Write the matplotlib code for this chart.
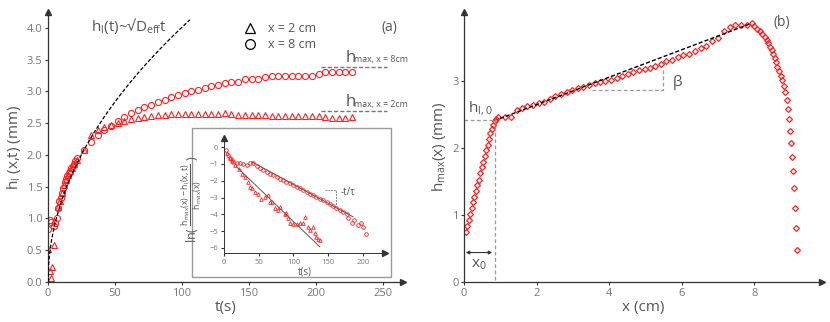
import numpy as np
import matplotlib
matplotlib.use("Agg")
import matplotlib.pyplot as plt
from matplotlib.lines import Line2D
from matplotlib.patches import Rectangle

plt.rcParams['font.family'] = ['Open Sans', 'DejaVu Sans']
plt.rcParams['mathtext.default'] = 'regular'

TXT = '#555555'
TICK = '#777777'
AX = '#333333'
RED = '#ff2020'

# ---- panel (a): h_l(x,t) ----
tri_t_early = [0.2, 1.5, 2.2, 3.0, 4.5, 7.5, 9.0, 10.5, 12.0, 13.5, 15.0, 16.5, 18.0, 19.5]
tri_h_early = [0.52, 0.18, 0.06, 0.24, 0.59, 1.18, 1.28, 1.40, 1.52, 1.60, 1.68, 1.74, 1.80, 1.86]
circ_t_early = [0.3, 1.5, 2.5, 4.5, 5.5, 6.5, 7.5, 8.5, 9.5, 10.5, 11.5, 12.5, 13.5,
                14.5, 15.5, 16.5, 17.5, 18.5, 19.5, 20.5]
circ_h_early = [0.84, 0.98, 0.94, 0.88, 0.93, 1.01, 1.17, 1.28, 1.33, 1.40, 1.48, 1.57,
                1.62, 1.67, 1.71, 1.75, 1.79, 1.83, 1.86, 1.90]
t_late = [22, 27, 32, 37, 42, 47, 52, 57, 62, 67, 72, 77, 82, 87, 92, 97, 102, 107, 112,
          117, 122, 127, 132, 137, 142, 147, 152, 157, 162, 167, 172, 177, 182, 187, 192,
          197, 202, 207, 212, 217, 222, 227]
circ_h_late = [1.95, 2.08, 2.21, 2.31, 2.39, 2.46, 2.53, 2.60, 2.66, 2.71, 2.75, 2.79, 2.83,
               2.87, 2.91, 2.95, 2.97, 3.00, 3.02, 3.05, 3.08, 3.10, 3.13, 3.15, 3.15, 3.19,
               3.19, 3.19, 3.22, 3.24, 3.24, 3.24, 3.24, 3.24, 3.24, 3.25, 3.28, 3.30, 3.30,
               3.30, 3.30, 3.30]
tri_h_late = [1.92, 2.08, 2.31, 2.40, 2.44, 2.47, 2.50, 2.54, 2.56, 2.58, 2.60, 2.62, 2.63,
              2.63, 2.64, 2.64, 2.64, 2.65, 2.65, 2.65, 2.65, 2.65, 2.66, 2.65, 2.63, 2.63,
              2.63, 2.63, 2.63, 2.62, 2.61, 2.61, 2.61, 2.61, 2.61, 2.61, 2.61, 2.59, 2.58,
              2.58, 2.58, 2.59]
sqrt_coef = 0.401      # h = a*sqrt(t)
sqrt_tmax = 106
hmax_8 = 3.39
hmax_2 = 2.69

# ---- inset: ln((hmax-h)/hmax) ----
in_circ_t = [2.9, 6.2, 8.6, 11, 13.4, 18, 23, 28, 33, 37.4, 42, 47, 52, 56.6, 61.4, 66, 71,
             75.8, 80.6, 85.3, 90, 95, 100, 104.5, 109, 114, 119, 124, 128, 133, 138, 143,
             148, 152, 157, 162, 167, 172, 176.5, 179, 183.7, 188, 193, 198, 200, 204]
in_circ_v = [-0.18, -0.48, -0.67, -0.77, -0.87, -0.97, -0.97, -1.03, -1.05, -0.97, -0.93,
             -1.13, -1.27, -1.37, -1.47, -1.57, -1.67, -1.77, -1.87, -1.97, -2.07, -2.16,
             -2.26, -2.36, -2.46, -2.56, -2.66, -2.76, -2.86, -2.96, -3.06, -3.16, -3.26,
             -3.39, -3.51, -3.65, -3.75, -3.85, -3.95, -4.19, -4.54, -4.35, -4.64, -4.54,
             -4.74, -5.18]
in_tri_t = [4, 8, 12, 16, 21, 25.4, 30, 35, 37.4, 41, 44.6, 49.4, 54, 59, 64, 66, 68.6, 73.4,
            78, 80.6, 87.8, 90, 92.5, 95, 100, 105, 110, 114, 116.5, 121, 124, 128.5, 131,
            133, 136, 138]
in_tri_v = [-0.35, -0.62, -0.85, -1.07, -1.3, -1.57, -1.8, -2.06, -2.36, -2.45, -2.66, -2.76,
            -3.06, -2.96, -2.86, -3.26, -3.25, -3.65, -3.75, -3.55, -3.95, -3.9, -4.24, -4.54,
            -4.57, -4.55, -4.5, -4.54, -4.15, -4.74, -4.94, -4.74, -5.13, -5.34, -5.44, -5.54]
fit8_t = [40, 186]
fit8_v = [-0.87, -4.15]
fit2_t = [18, 138]
fit2_v = [-1.17, -5.93]

# ---- panel (b): h_max(x) ----
x_b = [0.05, 0.09, 0.13, 0.17, 0.21, 0.25, 0.29, 0.33, 0.37, 0.41, 0.45, 0.49, 0.53, 0.57,
       0.61, 0.65, 0.69, 0.73, 0.77, 0.81, 0.85, 0.89, 0.93,
       1.13, 1.29, 1.45, 1.59, 1.74, 1.91, 2.06, 2.21, 2.37, 2.51, 2.67, 2.83, 2.98, 3.15,
       3.29, 3.44, 3.61, 3.75, 3.90, 4.05, 4.21, 4.36, 4.53, 4.66, 4.82, 4.98, 5.12, 5.27,
       5.44, 5.58, 5.73, 5.89, 6.04, 6.20, 6.36, 6.52, 6.68, 6.85, 7.00, 7.17, 7.33, 7.48,
       7.63, 7.79, 7.94,
       8.00, 8.07, 8.15, 8.22, 8.29, 8.35, 8.38, 8.43, 8.48, 8.51, 8.57, 8.60, 8.64, 8.68,
       8.73, 8.77, 8.82, 8.84, 8.89, 8.92, 8.95, 8.98, 9.01, 9.04, 9.07, 9.10, 9.13, 9.16,
       9.19]
h_b = [0.75, 0.84, 0.92, 1.01, 1.10, 1.19, 1.27, 1.36, 1.45, 1.53, 1.62, 1.71, 1.79, 1.88,
       1.97, 2.05, 2.14, 2.22, 2.29, 2.35, 2.40, 2.44, 2.47,
       2.47, 2.46, 2.57, 2.59, 2.62, 2.64, 2.67, 2.69, 2.73, 2.77, 2.80, 2.83, 2.86, 2.89,
       2.91, 2.94, 2.97, 2.98, 3.00, 3.02, 3.05, 3.07, 3.10, 3.14, 3.16, 3.18, 3.20, 3.22,
       3.26, 3.30, 3.32, 3.36, 3.39, 3.41, 3.45, 3.49, 3.52, 3.59, 3.64, 3.75, 3.81, 3.83,
       3.83, 3.84, 3.86,
       3.82, 3.78, 3.75, 3.70, 3.66, 3.61, 3.56, 3.51, 3.46, 3.41, 3.35, 3.29, 3.21, 3.15,
       3.08, 3.01, 2.93, 2.83, 2.71, 2.58, 2.43, 2.26, 2.08, 1.87, 1.65, 1.40, 1.11, 0.81,
       0.48]
lin_x = [0.99, 7.92]
lin_h = [2.44, 3.86]
x0 = 0.85
hl0 = 2.42


def style_axes(ax, fs=8):
    for s in ['top', 'right']:
        ax.spines[s].set_visible(False)
    for s in ['left', 'bottom']:
        ax.spines[s].set_color(AX)
        ax.spines[s].set_linewidth(0.9)
    ax.tick_params(colors=AX, labelcolor=TICK, labelsize=fs, length=2, width=0.8, pad=2)
    ax.plot(1, 0, '>', color=AX, ms=5, transform=ax.transAxes, clip_on=False)
    ax.plot(0, 1, '^', color=AX, ms=5, transform=ax.transAxes, clip_on=False)


fig = plt.figure(figsize=(8.3, 3.22), dpi=100)

# panel (a)
axa = fig.add_axes([0.0578, 0.1242, 0.4277, 0.8385])
style_axes(axa)
tt = np.linspace(0, sqrt_tmax, 300)
axa.plot(tt, sqrt_coef * np.sqrt(tt), '--', color='black', lw=0.9, dashes=(3, 1.5), zorder=3)
mk = dict(ls='none', mfc='none', mec=RED, mew=0.8, ms=4.4)
axa.plot(tri_t_early + t_late, tri_h_early + tri_h_late, marker='^', **mk)
axa.plot(circ_t_early + t_late, circ_h_early + circ_h_late, marker='o', **mk)
axa.hlines([hmax_8, hmax_2], 204, 253, colors='#777777', linestyles=(0, (3, 1.5)), lw=1)
for hm, lab in [(hmax_8, 'max, x = 8cm'), (hmax_2, 'max, x = 2cm')]:
    axa.text(222, hm + 0.08, 'h', fontsize=12, color=TXT)
    axa.text(228.5, hm + 0.07, lab, fontsize=6.3, color=TXT)
axa.text(32, 3.95, r'h$_{l}$(t)~√D$_{eff}$t', fontsize=11, color=TXT)
axa.text(261, 3.95, '(a)', fontsize=10, color=TXT, ha='right')
axa.set_xlim(0, 265)
axa.set_ylim(0, 4.25)
axa.set_xticks([0, 50, 100, 150, 200, 250])
axa.set_yticks(np.arange(0, 4.01, 0.5))
axa.yaxis.set_major_formatter(matplotlib.ticker.FormatStrFormatter('%.1f'))
axa.set_xlabel('t(s)', fontsize=11, color=TXT, labelpad=1)
axa.set_ylabel('h$_{l}$ (x,t) (mm)', fontsize=11, color=TXT, labelpad=3)
handles = [Line2D([], [], ls='none', marker='^', mfc='none', mec='black', ms=7, mew=0.9),
           Line2D([], [], ls='none', marker='o', mfc='none', mec='black', ms=7, mew=0.9)]
axa.legend(handles, ['x = 2 cm', 'x = 8 cm'], loc='upper left', bbox_to_anchor=(0.535, 0.985),
           frameon=False, fontsize=9, handlelength=1.0, handletextpad=0.9, borderpad=0,
           labelspacing=0.25, labelcolor=TXT)

# inset box and inset
fig.patches.append(Rectangle((192 / 830, 1 - 277 / 322), 199 / 830, 149 / 322,
                             transform=fig.transFigure, fill=False, edgecolor='#999999',
                             lw=1, zorder=2))
axi = fig.add_axes([0.2699, 0.2143, 0.194, 0.357], zorder=3)
axi.patch.set_alpha(0)
style_axes(axi, fs=5.5)
for s in ['left', 'bottom']:
    axi.spines[s].set_linewidth(0.7)
axi.plot(fit8_t, fit8_v, color='#555555', lw=0.7)
axi.plot(fit2_t, fit2_v, color='#555555', lw=0.7)
mki = dict(ls='none', mfc='none', mec=RED, mew=0.6, ms=2.6)
axi.plot(in_circ_t, in_circ_v, marker='o', **mki)
axi.plot(in_tri_t, in_tri_v, marker='^', **mki)
axi.plot([145, 162, 162], [-2.56, -2.56, -3.45], ls=(0, (2, 1)), color='#888888', lw=0.7)
axi.text(168, -2.85, '-t/τ', fontsize=7, color=TXT)
axi.set_xlim(0, 232)
axi.set_ylim(-6.3, 0.54)
axi.set_xticks([0, 50, 100, 150, 200])
axi.set_yticks([0, -1, -2, -3, -4, -5, -6])
axi.set_yticklabels(['0', '−1', '−2', '−3', '−4', '−5', '−6'])
axi.set_xlabel('t(s)', fontsize=7, color=TXT, labelpad=1)
axi.set_ylabel(r'ln( $\frac{h_{max}(x) - h_{l}(x,t)}{h_{max}(x)}$ )', fontsize=9,
               color=TXT)
axi.yaxis.set_label_coords(-0.125, 0.47)

# panel (b)
axb = fig.add_axes([0.559, 0.1242, 0.431, 0.8385])
style_axes(axb)
axb.plot(lin_x, lin_h, '--', color='black', lw=1.0, dashes=(3, 1.5), zorder=3)
axb.plot(x_b, h_b, ls='none', marker='D', mfc='none', mec=RED, mew=0.9, ms=3.0)
gd = dict(ls=(0, (3, 2)), color='#999999', lw=0.9)
axb.plot([0, x0], [hl0, hl0], **gd)
axb.plot([x0, x0], [hl0, 0], **gd)
axb.plot([3.52, 5.49, 5.49], [2.87, 2.87, 3.16], **gd)
axb.annotate('', xy=(0.05, 0.44), xytext=(0.78, 0.44),
             arrowprops=dict(arrowstyle='<|-|>', color=AX, lw=0.8, mutation_scale=5,
                             shrinkA=0, shrinkB=0))
axb.text(0.42, 0.22, 'x$_0$', fontsize=11, color=TXT, ha='center')
axb.text(0.1, 2.55, 'h$_{l,0}$', fontsize=11, color=TXT)
axb.text(5.75, 2.93, 'β', fontsize=11, color=TXT)
axb.text(8.75, 3.82, '(b)', fontsize=10, color=TXT, ha='center')
axb.set_xlim(0, 9.86)
axb.set_ylim(0, 4.03)
axb.set_xticks([0, 2, 4, 6, 8])
axb.set_yticks([0, 1, 2, 3])
axb.set_xlabel('x (cm)', fontsize=11, color=TXT, labelpad=1)
axb.set_ylabel('h$_{max}$(x) (mm)', fontsize=11, color=TXT, labelpad=3)

fig.savefig('out.png', dpi=100)
